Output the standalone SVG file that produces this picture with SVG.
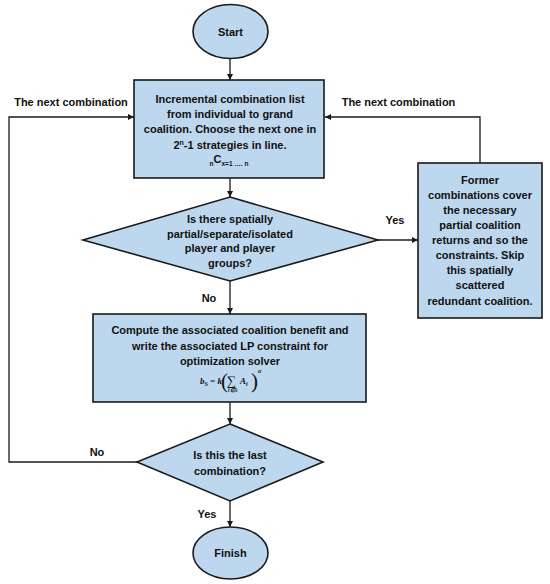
<svg xmlns="http://www.w3.org/2000/svg" width="550" height="584" viewBox="0 0 550 584">
<defs>
<style>
.shape{fill:#BDD7EE;stroke:#1a1a1a;stroke-width:1.6}
.t{font-family:"Liberation Sans",Arial,sans-serif;font-weight:bold;font-size:11px;fill:#111;text-anchor:middle}
.f{font-family:"Liberation Serif","Times New Roman",serif;font-weight:bold;font-style:italic;fill:#111}
.p{font-family:"Liberation Serif","Times New Roman",serif;fill:#111}
.c{fill:none;stroke:#1a1a1a;stroke-width:1.3}
</style>
<marker id="ah" viewBox="0 0 10 10" refX="10" refY="5" markerWidth="6" markerHeight="6" markerUnits="userSpaceOnUse" orient="auto">
<path d="M0,0 L10,5 L0,10 z" fill="#1a1a1a"/>
</marker>
</defs>
<rect width="550" height="584" fill="#ffffff"/>

<g id="connectors">
<line class="c" x1="230" y1="59" x2="230" y2="80" marker-end="url(#ah)"/>
<line class="c" x1="230" y1="178" x2="230" y2="197" marker-end="url(#ah)"/>
<line class="c" x1="230" y1="281" x2="230" y2="314" marker-end="url(#ah)"/>
<line class="c" x1="378" y1="240" x2="418" y2="240" marker-end="url(#ah)"/>
<polyline class="c" points="480,163 480,117 325,117" marker-end="url(#ah)"/>
<line class="c" x1="230" y1="402" x2="230" y2="424" marker-end="url(#ah)"/>
<polyline class="c" points="137,462 9,462 9,117 134,117" marker-end="url(#ah)"/>
<line class="c" x1="230" y1="501" x2="230" y2="527" marker-end="url(#ah)"/>
<text class="t" x="71" y="106">The next combination</text>
<text class="t" x="398.5" y="106">The next combination</text>
<text class="t" x="395" y="224">Yes</text>
<text class="t" x="209" y="302">No</text>
<text class="t" x="97" y="456">No</text>
<text class="t" x="207" y="518">Yes</text>
</g>

<g id="start">
<ellipse class="shape" cx="230.5" cy="31.5" rx="37.5" ry="27"/>
<text class="t" x="230.5" y="35.5">Start</text>
</g>

<g id="combination-list">
<rect class="shape" x="134" y="80" width="190" height="98"/>
<text class="t" x="230" y="103">Incremental combination list</text>
<text class="t" x="230" y="118">from individual to grand</text>
<text class="t" x="230" y="133">coalition. Choose the next one in</text>
<text class="t" x="230" y="149">2<tspan font-size="7" dy="-4">n</tspan><tspan dy="4">-1 strategies in line.</tspan></text>
<text class="t" x="229" y="166"><tspan font-size="6.5">n</tspan><tspan font-size="11" dy="-3">C</tspan><tspan font-size="6.5" dy="3">x=1 …. n</tspan></text>
</g>

<g id="spatial-check">
<polygon class="shape" points="230,197 378,240 230,281 83,240"/>
<text class="t" x="230" y="223">Is there spatially</text>
<text class="t" x="230" y="237.5">partial/separate/isolated</text>
<text class="t" x="230" y="252">player and player</text>
<text class="t" x="230" y="266.5">groups?</text>
</g>

<g id="skip-box">
<rect class="shape" x="418" y="163" width="124" height="155"/>
<text class="t" x="480" y="184">Former</text>
<text class="t" x="480" y="199">combinations cover</text>
<text class="t" x="480" y="214">the necessary</text>
<text class="t" x="480" y="229">partial coalition</text>
<text class="t" x="480" y="244">returns and so the</text>
<text class="t" x="480" y="259">constraints. Skip</text>
<text class="t" x="480" y="274">this spatially</text>
<text class="t" x="480" y="289">scattered</text>
<text class="t" x="480" y="304.5">redundant coalition.</text>
</g>

<g id="compute-benefit">
<rect class="shape" x="93" y="314" width="273" height="88"/>
<text class="t" x="230" y="334">Compute the associated coalition benefit and</text>
<text class="t" x="230" y="349.5">write the associated LP constraint for</text>
<text class="t" x="230" y="364.5">optimization solver</text>
<text class="f" x="200" y="384" font-size="9">b<tspan font-size="6" dy="1.5">S</tspan><tspan dy="-1.5"> = k</tspan></text>
<text class="p" x="221" y="388" font-size="21">(</text>
<text class="p" x="227" y="385" font-size="13">∑</text>
<text class="f" x="228" y="392" font-size="5.5">i∈S</text>
<text class="f" x="240" y="384" font-size="9">A<tspan font-size="6" dy="1.5">i</tspan></text>
<text class="p" x="251" y="388" font-size="21">)</text>
<text class="f" x="258" y="373" font-size="6">α</text>
</g>

<g id="last-check">
<polygon class="shape" points="230,424 323,462 230,501 137,462"/>
<text class="t" x="230" y="459">Is this the last</text>
<text class="t" x="230" y="475">combination?</text>
</g>

<g id="finish">
<ellipse class="shape" cx="230.5" cy="553" rx="37.5" ry="26"/>
<text class="t" x="230.5" y="557">Finish</text>
</g>
</svg>
